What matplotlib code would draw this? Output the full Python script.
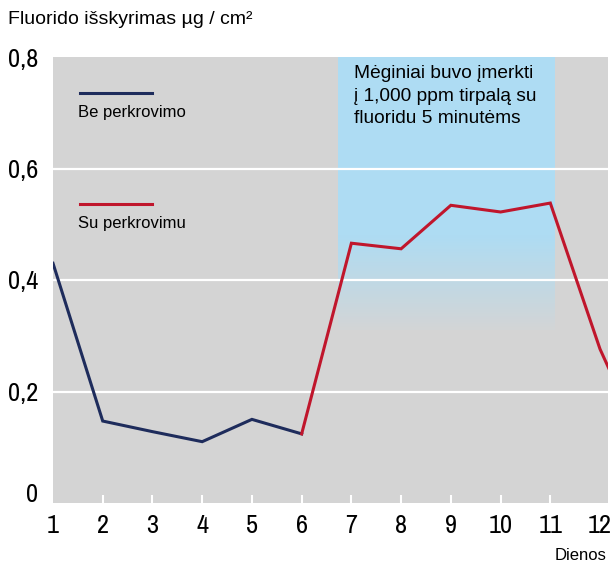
import os
import numpy as np
import matplotlib
matplotlib.use("Agg")
import matplotlib.pyplot as plt
from matplotlib import font_manager
from matplotlib.transforms import ScaledTranslation

# data
days = [1, 2, 3, 4, 5, 6, 7, 8, 9, 10, 11, 12, 13]
release = [0.430, 0.147, 0.128, 0.110, 0.150, 0.124,
           0.466, 0.456, 0.534, 0.522, 0.538, 0.276, 0.08]
split = 6  # index where "Su perkrovimu" starts (day 6 -> 7 red)
x_ticks = list(range(1, 13))
y_ticks = [0, 0.2, 0.4, 0.6, 0.8]
y_labels = ["0", "0,2", "0,4", "0,6", "0,8"]
soak_span = (6.74, 11.1)

NAVY = "#1e2c5c"
RED = "#c0162c"
GRAY = "#d4d4d4"
BLUE = "#aedcf3"

# look for a regular condensed / narrow face for the tick numbers
cond = []
for f in font_manager.fontManager.ttflist:
    base = os.path.basename(f.fname)
    if ("Condensed" in base or "Narrow" in base) and "Bold" not in base \
            and "Oblique" not in base and "Italic" not in base:
        cond.append(f.fname)
cond.sort(key=lambda p: ("Narrow" not in p, p))
narrow_fp = font_manager.FontProperties(fname=cond[0]) if cond else None
plt.rcParams['font.family'] = ['Liberation Sans', 'DejaVu Sans']

fig = plt.figure(figsize=(6.13, 5.64), dpi=100)
ax = fig.add_axes([53/613, 1-503/564, 555/613, 446/564])
ax.set_facecolor(GRAY)
ax.set_xlim(1, 12.16)
ax.set_ylim(0, 0.8)

# shaded soaking period with fade at the bottom
grad_lo, grad_hi = 0.31, 0.48
c_top = np.array(matplotlib.colors.to_rgb(BLUE))
c_bot = np.array(matplotlib.colors.to_rgb("#d3d5d6"))
t = np.linspace(0, 1, 100)[:, None]
img = (c_bot + (c_top - c_bot) * t)[:, None, :]
ax.imshow(img, extent=(soak_span[0], soak_span[1], grad_lo, grad_hi),
          origin="lower", aspect="auto", zorder=1)
ax.fill_between(soak_span, grad_hi, 0.8, color=BLUE, lw=0, zorder=1)

for y in [0.2, 0.4, 0.6]:
    ax.axhline(y, color="white", lw=1.6, zorder=2)

ax.plot(days[:split], release[:split], color=NAVY, lw=2.2, zorder=3,
        solid_joinstyle="miter")
ax.plot(days[split-1:], release[split-1:], color=RED, lw=2.2, zorder=3,
        solid_joinstyle="miter")

for s in ax.spines.values():
    s.set_visible(False)

ax.set_xticks(x_ticks)
ax.set_xticklabels([str(d) for d in x_ticks])
ax.tick_params(axis="x", direction="in", length=6, width=1.5, color="white",
               pad=8)
ax.set_yticks(y_ticks)
ax.set_yticklabels(y_labels)
ax.tick_params(axis="y", length=0, pad=10.5)
for lbl in ax.get_xticklabels() + ax.get_yticklabels():
    if narrow_fp is not None:
        lbl.set_fontproperties(narrow_fp)
    lbl.set_fontsize(19)
ax.xaxis.get_major_ticks()[0].tick1line.set_visible(False)
ax.xaxis.get_major_ticks()[-1].tick1line.set_visible(False)
lbl0 = ax.get_yticklabels()[0]
lbl0.set_transform(lbl0.get_transform() + ScaledTranslation(0, 11/100, fig.dpi_scale_trans))

# legend drawn inline
ax.plot([1.54, 3.0], [0.735, 0.735], color=NAVY, lw=2.2, zorder=3)
ax.text(1.5, 0.70, "Be perkrovimo", fontsize=12, va="center", zorder=4)
ax.plot([1.54, 3.0], [0.537, 0.537], color=RED, lw=2.2, zorder=3)
ax.text(1.5, 0.502, "Su perkrovimu", fontsize=12, va="center", zorder=4)

ax.text(7.05, 0.785, "Mėginiai buvo įmerkti\nį 1,000 ppm tirpalą su\nfluoridu 5 minutėms",
        fontsize=13.8, va="top", linespacing=1.4, zorder=4)

fig.text(8/613, 1-20/564, "Fluorido išskyrimas µg / cm²", fontsize=14, va="center")
fig.text(606/613, 1-555/564, "Dienos", fontsize=12, ha="right", va="center")

fig.savefig("out.png", dpi=100)
